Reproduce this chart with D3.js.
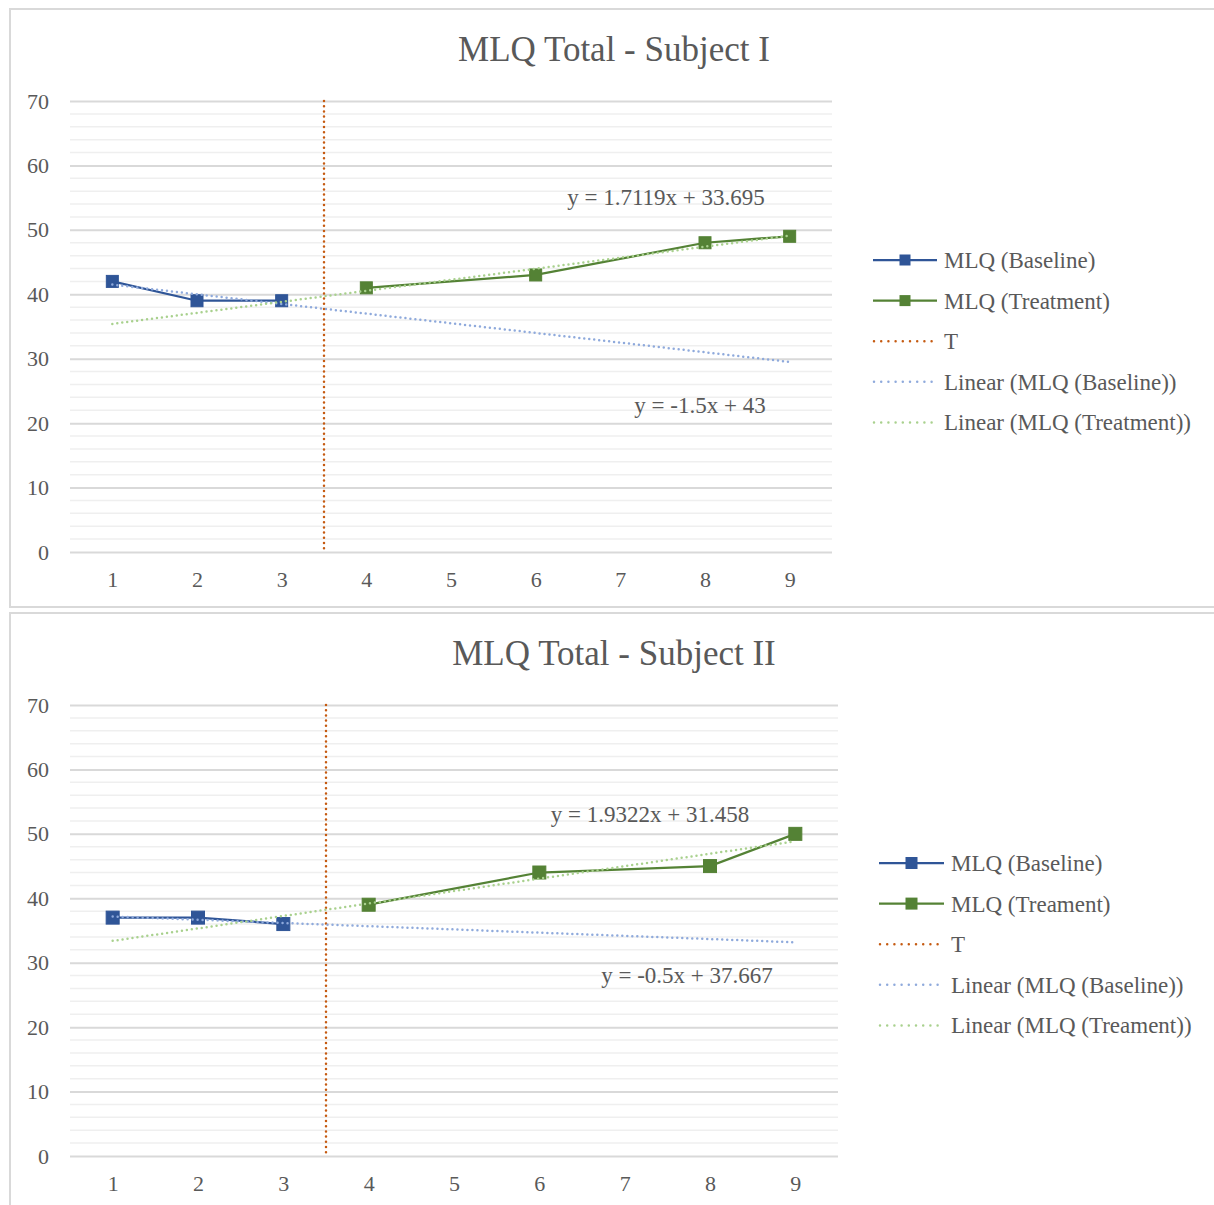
<!DOCTYPE html>
<html>
<head>
<meta charset="utf-8">
<script src="https://cdn.jsdelivr.net/npm/d3@7"></script>
<style>
  html, body { margin: 0; padding: 0; background: #fff; }
  svg { display: block; }
  text { font-family: "Liberation Serif", "Times New Roman", serif; fill: #595959; }
</style>
</head>
<body>
<svg id="chart" width="1214" height="1205"></svg>
<script>
// ---------- DATA ----------
const categories = [1, 2, 3, 4, 5, 6, 7, 8, 9];
const yTicks = [0, 10, 20, 30, 40, 50, 60, 70];
const interventionAt = 3.5;

const titles = ["MLQ Total - Subject I", "MLQ Total - Subject II"];

const subject1Baseline  = [42, 39, 39, null, null, null, null, null, null];
const subject1Treatment = [null, null, null, 41, null, 43, null, 48, 49];
const subject2Baseline  = [37, 37, 36, null, null, null, null, null, null];
const subject2Treatment = [null, null, null, 39, null, 44, null, 45, 50];

const subject1Legend = ["MLQ (Baseline)", "MLQ (Treatment)", "T", "Linear (MLQ (Baseline))", "Linear (MLQ (Treatment))"];
const subject2Legend = ["MLQ (Baseline)", "MLQ (Treament)", "T", "Linear (MLQ (Baseline))", "Linear (MLQ (Treament))"];

const subject1Equations = ["y = -1.5x + 43", "y = 1.7119x + 33.695"];
const subject2Equations = ["y = -0.5x + 37.667", "y = 1.9322x + 31.458"];

// ---------- STYLE ----------
const COL_BASE = "#2F5597";
const COL_TREAT = "#548235";
const COL_T = "#C55A11";
const COL_BASE_TREND = "#8FAADC";
const COL_TREAT_TREND = "#A9D18E";

const svg = d3.select("#chart");

function fit(vals) {
  const pts = categories.map((c, i) => ({x: c, y: vals[i]})).filter(d => d.y != null);
  const mx = d3.mean(pts, d => d.x), my = d3.mean(pts, d => d.y);
  const sxy = d3.sum(pts, d => (d.x - mx) * (d.y - my));
  const sxx = d3.sum(pts, d => (d.x - mx) ** 2);
  const m = sxy / sxx;
  return {m, b: my - m * mx};
}

function drawPanel(cfg) {
  const g = svg.append("g");
  g.append("rect")
    .attr("x", cfg.box[0]).attr("y", cfg.box[1])
    .attr("width", cfg.box[2]).attr("height", cfg.box[3])
    .attr("fill", "#fff").attr("stroke", "#d9d9d9").attr("stroke-width", 2);

  const x = d3.scalePoint().domain(categories).range([cfg.left, cfg.right]).padding(0.5);
  const y = d3.scaleLinear().domain([0, 70]).range([cfg.bottom, cfg.top]);
  const step = x.step();
  const xc = v => x(1) + (v - 1) * step;

  const minor = d3.range(0, 71, 2).filter(v => v % 10 !== 0);
  g.append("g").selectAll("line").data(minor).join("line")
    .attr("x1", cfg.left).attr("x2", cfg.right)
    .attr("y1", d => y(d)).attr("y2", d => y(d))
    .attr("stroke", "#efefef").attr("stroke-width", 1.5);

  const yAxis = d3.axisLeft(y).tickValues(yTicks).tickSize(-(cfg.right - cfg.left)).tickPadding(21);
  const ya = g.append("g").attr("transform", `translate(${cfg.left},0)`).call(yAxis);
  ya.select(".domain").remove();
  ya.selectAll(".tick line").attr("stroke", "#d9d9d9").attr("stroke-width", 2);
  ya.selectAll(".tick text").attr("font-size", 22).attr("fill", "#595959")
    .style("font-family", '"Liberation Serif", serif');

  const xAxis = d3.axisBottom(x).tickSize(0).tickPadding(19);
  const xa = g.append("g").attr("transform", `translate(0,${cfg.bottom})`).call(xAxis);
  xa.select(".domain").remove();
  xa.selectAll(".tick text").attr("font-size", 22).attr("fill", "#595959")
    .style("font-family", '"Liberation Serif", serif');

  g.append("text").attr("x", cfg.titleX).attr("y", cfg.titleY)
    .attr("text-anchor", "middle").attr("font-size", 35).text(cfg.title);

  const line = d3.line().x(d => x(d.x)).y(d => y(d.y));
  const seriesPts = vals => categories.map((c, i) => ({x: c, y: vals[i]})).filter(d => d.y != null);

  [[cfg.baseline, COL_BASE], [cfg.treatment, COL_TREAT]].forEach(([vals, col]) => {
    const pts = seriesPts(vals);
    g.append("path").datum(pts).attr("d", line)
      .attr("fill", "none").attr("stroke", col).attr("stroke-width", 2.25);
    g.append("g").selectAll("rect").data(pts).join("rect")
      .attr("x", d => x(d.x) - cfg.mk / 2).attr("y", d => y(d.y) - cfg.mk / 2)
      .attr("width", cfg.mk).attr("height", cfg.mk)
      .attr("fill", col).attr("stroke", col).attr("stroke-width", 1);
  });

  g.append("line")
    .attr("x1", xc(interventionAt)).attr("x2", xc(interventionAt))
    .attr("y1", y(70)).attr("y2", y(0))
    .attr("stroke", COL_T).attr("stroke-width", 2.5)
    .attr("stroke-dasharray", "0 5.2").attr("stroke-linecap", "round");

  [[cfg.baseline, COL_BASE_TREND], [cfg.treatment, COL_TREAT_TREND]].forEach(([vals, col]) => {
    const f = fit(vals);
    const pts = [1, 9].map(c => ({x: c, y: f.m * c + f.b}));
    g.append("path").datum(pts).attr("d", line)
      .attr("fill", "none").attr("stroke", col).attr("stroke-width", 2.5)
      .attr("stroke-dasharray", "0 5").attr("stroke-linecap", "round");
  });

  cfg.eqPos.forEach((p, i) => {
    g.append("text").attr("x", p[0]).attr("y", p[1]).attr("text-anchor", "middle")
      .attr("font-size", 23).text(cfg.equations[i]);
  });

  const lg = g.append("g");
  cfg.legend.forEach((lab, i) => {
    const ly = cfg.legY + i * cfg.legStep;
    const row = lg.append("g");
    if (i < 2) {
      const col = i === 0 ? COL_BASE : COL_TREAT;
      row.append("line").attr("x1", cfg.legX0).attr("x2", cfg.legX1).attr("y1", ly).attr("y2", ly)
        .attr("stroke", col).attr("stroke-width", 2.25);
      const mx = (cfg.legX0 + cfg.legX1) / 2;
      row.append("rect").attr("x", mx - cfg.legMk / 2).attr("y", ly - cfg.legMk / 2)
        .attr("width", cfg.legMk).attr("height", cfg.legMk).attr("fill", col);
    } else {
      const col = [COL_T, COL_BASE_TREND, COL_TREAT_TREND][i - 2];
      row.append("line").attr("x1", cfg.legX0 + 1).attr("x2", cfg.legX1 - 1).attr("y1", ly).attr("y2", ly)
        .attr("stroke", col).attr("stroke-width", 2.5)
        .attr("stroke-dasharray", "0 7.2").attr("stroke-linecap", "round");
    }
    row.append("text").attr("x", cfg.legX1 + 7).attr("y", ly + 8)
      .attr("font-size", 23).text(lab);
  });
}

drawPanel({
  box: [10, 9, 1220, 598],
  left: 70, right: 832, top: 101, bottom: 552,
  title: titles[0], titleX: 614, titleY: 61,
  baseline: subject1Baseline, treatment: subject1Treatment,
  equations: subject1Equations, eqPos: [[700, 413], [666, 205]],
  legend: subject1Legend, legX0: 873, legX1: 937, legY: 260, legStep: 40.6, legMk: 11,
  mk: 12
});

drawPanel({
  box: [10, 613, 1220, 610],
  left: 70, right: 838, top: 705, bottom: 1156,
  title: titles[1], titleX: 614, titleY: 665,
  baseline: subject2Baseline, treatment: subject2Treatment,
  equations: subject2Equations, eqPos: [[687, 983], [650, 822]],
  legend: subject2Legend, legX0: 879, legX1: 944, legY: 863, legStep: 40.6, legMk: 12,
  mk: 13
});
</script>
</body>
</html>
